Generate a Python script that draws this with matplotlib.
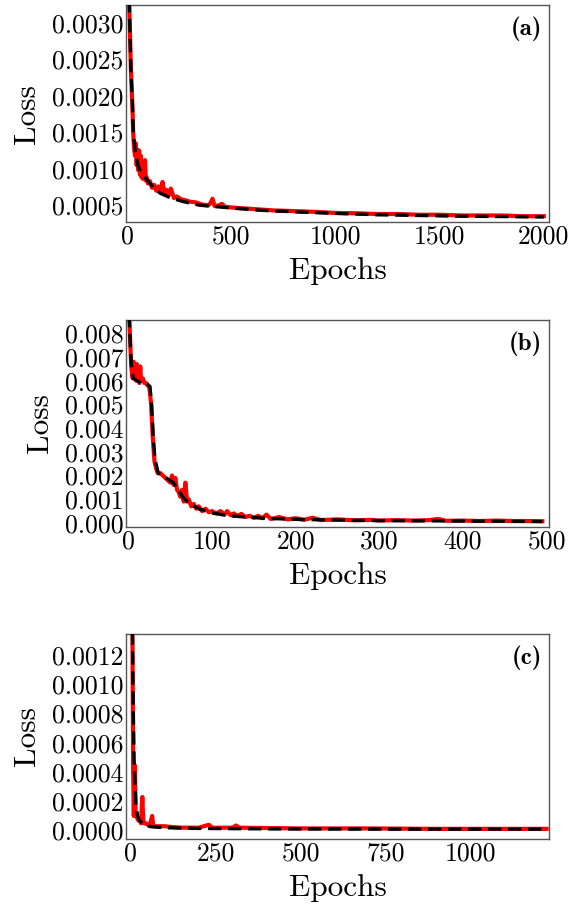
import matplotlib
matplotlib.use("Agg")
import matplotlib.pyplot as plt

plt.rcParams["font.family"] = "cmr10"
plt.rcParams["axes.unicode_minus"] = False
plt.rcParams["mathtext.fontset"] = "cm"

# ---- panel (a) ----
ep_a_val = [0, 5, 11, 18, 25, 30, 34, 38, 42, 46, 50, 54, 58, 62, 66, 70, 74, 78, 82, 86,
            90, 95, 100, 110, 120, 130, 140, 150, 160, 170, 180, 190, 200, 210, 225, 240,
            260, 280, 300, 330, 360, 390, 400, 410, 420, 440, 455, 470, 500, 550, 600, 650,
            700, 800, 900, 1000, 1100, 1200, 1300, 1400, 1500, 1600, 1700, 1800, 1900, 2000]
loss_a_val = [0.0060, 0.0042, 0.0032, 0.0024, 0.0019, 0.00145, 0.00128, 0.00118, 0.00135, 0.00105,
              0.00126, 0.00098, 0.00125, 0.00092, 0.00118, 0.00088, 0.00102, 0.00086, 0.00095, 0.00112,
              0.00084, 0.00088, 0.00080, 0.00083, 0.00074, 0.00078, 0.00070, 0.00076, 0.00068, 0.00082,
              0.00066, 0.00071, 0.00064, 0.00073, 0.00060, 0.00062, 0.00058, 0.00057, 0.00055, 0.00054,
              0.00051, 0.00050, 0.00053, 0.00059, 0.00049, 0.00050, 0.00052, 0.00048, 0.00047, 0.00046,
              0.00045, 0.00044, 0.00043, 0.00042, 0.00041, 0.000395, 0.00039, 0.00038, 0.00038, 0.00037,
              0.00037, 0.00036, 0.00036, 0.00036, 0.00035, 0.00035]
ep_a_train = [0, 5, 11, 18, 25, 30, 40, 54, 70, 95, 125, 159, 210, 271, 350, 430, 511, 650,
              800, 990, 1200, 1400, 1600, 1800, 2000]
loss_a_train = [0.0060, 0.0042, 0.00325, 0.0024, 0.00195, 0.00149, 0.00122, 0.00103, 0.00094,
                0.00085, 0.00075, 0.000665, 0.00060, 0.00055, 0.00050, 0.00048, 0.00046, 0.00043,
                0.00041, 0.00039, 0.00037, 0.00036, 0.00035, 0.000345, 0.00034]

# ---- panel (b) ----
ep_b_val = [0, 1, 2.5, 3.5, 5, 6, 7, 8, 9, 10, 11, 12, 13, 14, 15, 17, 19, 21, 23, 25, 27, 29,
            31, 33, 35, 38, 41, 44, 47, 50, 52, 54, 56, 58, 60, 62, 64, 66, 68, 70, 72, 75, 78,
            81, 84, 88, 92, 96, 100, 105, 110, 115, 118, 122, 126, 130, 135, 140, 145, 150, 155,
            160, 165, 170, 175, 180, 190, 200, 210, 220, 230, 250, 270, 290, 300, 320, 340, 360,
            370, 380, 400, 420, 440, 460, 480, 495]
loss_b_val = [0.0105, 0.0086, 0.0072, 0.0065, 0.0061, 0.0068, 0.0062, 0.0064, 0.0060, 0.0067,
              0.0061, 0.0063, 0.0059, 0.0066, 0.0060, 0.0061, 0.0059, 0.0059, 0.0058, 0.0057,
              0.0050, 0.0036, 0.0026, 0.0023, 0.0021, 0.0021, 0.0020, 0.0019, 0.0018, 0.0017,
              0.0020, 0.0016, 0.0019, 0.0014, 0.0013, 0.0011, 0.0014, 0.0009, 0.0017, 0.0009,
              0.0010, 0.0007, 0.0008, 0.0006, 0.0007, 0.0005, 0.0006, 0.00045, 0.0005, 0.0004,
              0.0005, 0.00035, 0.0005, 0.00033, 0.0004, 0.0003, 0.00038, 0.00025, 0.0003, 0.00022,
              0.0003, 0.0002, 0.00035, 0.00017, 0.0002, 0.00025, 0.00015, 0.0002, 0.00013, 0.00022,
              0.00012, 0.00015, 0.00011, 0.00013, 0.0001, 0.00012, 0.0001, 0.00012, 0.00017, 0.00009,
              0.0001, 0.00008, 0.0001, 0.00008, 0.00008, 0.00007]
ep_b_train = [0, 1, 2.5, 3.7, 5.6, 10, 15, 21, 25.6, 27.6, 29.5, 31.6, 35.5, 45, 53.5, 61.5, 67,
              73.4, 85, 100, 120, 160, 200, 250, 300, 350, 400, 450, 495]
loss_b_train = [0.0105, 0.0086, 0.0072, 0.0065, 0.0061, 0.0060, 0.0059, 0.0059, 0.00576, 0.0050,
                0.00365, 0.0027, 0.0021, 0.0019, 0.0017, 0.00127, 0.0010, 0.0008, 0.00058, 0.00042,
                0.00030, 0.00020, 0.00015, 0.00012, 0.0001, 0.00009, 0.00008, 0.00007, 0.00006]

# ---- panel (c) ----
ep_c_val = [0, 5, 7, 9, 11, 12.5, 14, 18, 22, 26, 30, 34, 37, 40, 45, 55, 63, 66, 80, 100, 120,
            150, 200, 230, 240, 300, 310, 320, 500, 700, 900, 1225]
loss_c_val = [0.0030, 0.0013, 0.0004, 0.0001, 0.00045, 0.00040, 0.0001, 0.00009, 0.00007,
              0.00008, 0.00005, 0.00023, 0.00006, 0.00005, 0.00005, 0.00003, 0.0001, 0.00003,
              0.00003, 0.00003, 0.000025, 0.00002, 0.00002, 0.00004, 0.00002, 0.00002, 0.000035,
              0.00002, 0.000015, 0.000015, 0.000012, 0.000012]
ep_c_train = [0, 5, 7, 10, 15, 20, 25, 35, 60, 100, 200, 400, 800, 1225]
loss_c_train = [0.0030, 0.00134, 0.0009, 0.00046, 0.00019, 0.0001, 0.00007, 0.00005, 0.000027,
                0.00002, 0.000015, 0.000012, 0.00001, 0.00001]

panels = [
    dict(ev=ep_a_val, lv=loss_a_val, et=ep_a_train, lt=loss_a_train,
         xlim=(-5, 2025), ylim=(0.00027, 0.00325),
         xt=[0, 500, 1000, 1500, 2000],
         yt=[0.0005, 0.0010, 0.0015, 0.0020, 0.0025, 0.0030], yfmt="%.4f",
         tag="(a)", pos=[0.2207, 0.7552, 0.7408, 0.2393]),
    dict(ev=ep_b_val, lv=loss_b_val, et=ep_b_train, lt=loss_b_train,
         xlim=(-3, 503), ylim=(-0.00017, 0.00856),
         xt=[0, 100, 200, 300, 400, 500],
         yt=[0.000, 0.001, 0.002, 0.003, 0.004, 0.005, 0.006, 0.007, 0.008], yfmt="%.3f",
         tag="(b)", pos=[0.2207, 0.4190, 0.7408, 0.2282]),
    dict(ev=ep_c_val, lv=loss_c_val, et=ep_c_train, lt=loss_c_train,
         xlim=(-14, 1232), ylim=(-0.000057, 0.001343),
         xt=[0, 250, 500, 750, 1000],
         yt=[0.0000, 0.0002, 0.0004, 0.0006, 0.0008, 0.0010, 0.0012], yfmt="%.4f",
         tag="(c)", pos=[0.2207, 0.0750, 0.7408, 0.2260]),
]

fig = plt.figure(figsize=(5.71, 9.07), dpi=100)

for p in panels:
    ax = fig.add_axes(p["pos"])
    ax.plot(p["ev"], p["lv"], color="red", lw=3.0, zorder=2)
    ax.plot(p["et"], p["lt"], color="black", lw=2.4, ls=(0, (4, 2)), zorder=3)
    ax.set_xlim(*p["xlim"])
    ax.set_ylim(*p["ylim"])
    ax.set_xticks(p["xt"])
    ax.set_xticklabels([str(v) for v in p["xt"]])
    ax.set_yticks(p["yt"])
    ax.set_yticklabels([p["yfmt"] % v for v in p["yt"]])
    ax.tick_params(length=0, labelsize=18.5, pad=2)
    for s in ax.spines.values():
        s.set_color("#555555")
        s.set_linewidth(1.0)
    ax.set_xlabel("Epochs", fontsize=22.5, labelpad=6)
    ax.set_ylabel("Loss", fontsize=22.5, labelpad=8)
    ax.annotate(p["tag"], xy=(1, 1), xycoords="axes fraction", xytext=(-5, -8),
                textcoords="offset points", ha="right", va="top",
                fontsize=18, family="cmb10")

fig.savefig("out.png", dpi=100)
